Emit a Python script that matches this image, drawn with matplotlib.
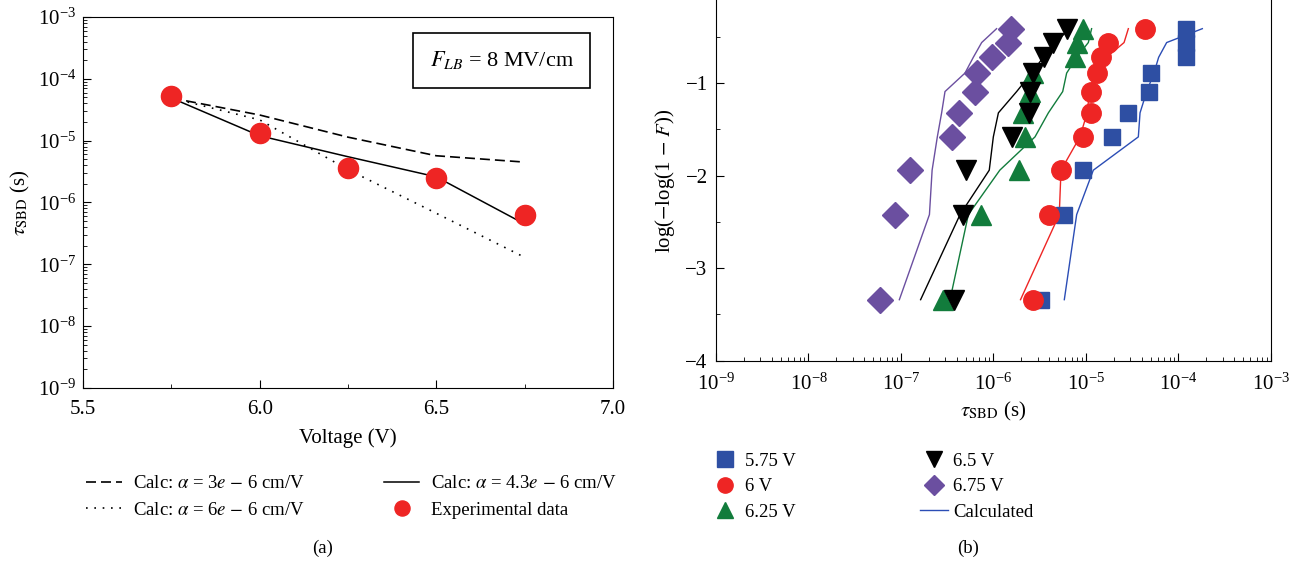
import matplotlib.pyplot as plt
from matplotlib.ticker import LogLocator, MultipleLocator, NullFormatter, FixedLocator
from matplotlib.lines import Line2D

plt.rcParams['font.family'] = ['Liberation Serif', 'DejaVu Serif']
plt.rcParams['mathtext.fontset'] = 'stix'
plt.rcParams['font.size'] = 12.5

# ===== (a) tau_SBD vs voltage =====
volt = [5.75, 6.0, 6.25, 6.5, 6.75]
tau_exp = [5.3e-5, 1.32e-5, 3.67e-6, 2.53e-6, 6.3e-7]
tau_a30 = [4.9e-5, 2.6e-5, 1.14e-5, 5.7e-6, 4.5e-6]    # alpha = 3e-6
tau_a43 = [4.9e-5, 1.2e-5, 5.5e-6, 2.6e-6, 4.5e-7]     # alpha = 4.3e-6
tau_a60 = [4.9e-5, 2.17e-5, 3.4e-6, 6.7e-7, 1.3e-7]    # alpha = 6e-6

# ===== (b) Weibull plot =====
wb_y = [-3.34, -2.42, -1.94, -1.58, -1.32, -1.09, -0.89, -0.72, -0.56, -0.41]

t575 = [3.3e-6, 5.83e-6, 9.2e-6, 1.92e-5, 2.84e-5, 4.77e-5, 5.08e-5, 1.22e-4, 1.22e-4, 1.22e-4]
t600 = [2.7e-6, 4.0e-6, 5.37e-6, 9.35e-6, 1.13e-5, 1.13e-5, 1.33e-5, 1.47e-5, 1.71e-5, 4.35e-5]
t625 = [2.83e-7, 7.28e-7, 1.88e-6, 2.21e-6, 2.07e-6, 2.48e-6, 2.66e-6, 7.6e-6, 7.93e-6, 9.2e-6]
t650 = [3.78e-7, 4.65e-7, 5.05e-7, 1.6e-6, 2.41e-6, 2.48e-6, 2.66e-6, 3.52e-6, 4.37e-6, 6.18e-6]
t675 = [5.93e-8, 8.61e-8, 1.25e-7, 3.53e-7, 4.24e-7, 6.3e-7, 6.68e-7, 9.55e-7, 1.42e-6, 1.55e-6]

c575 = [5.83e-6, 7.93e-6, 1.2e-5, 3.68e-5, 3.84e-5, 4.53e-5, 5.43e-5, 6.1e-5, 7.45e-5, 1.81e-4]
c600 = [1.96e-6, 5.14e-6, 5.37e-6, 8.6e-6, 1.03e-5, 1.09e-5, 1.25e-5, 1.67e-5, 2.58e-5, 2.87e-5]
c625 = [3.39e-7, 5.35e-7, 1.17e-6, 2.81e-6, 3.92e-6, 5.6e-6, 6.18e-6, 7.93e-6, 1.06e-5, 1.15e-5]
c650 = [1.63e-7, 4.35e-7, 9.0e-7, 9.96e-7, 1.13e-6, 1.78e-6, 2.58e-6, 3.45e-6, 4.62e-6, 6.71e-6]
c675 = [9.6e-8, 2.03e-7, 2.17e-7, 2.47e-7, 2.75e-7, 2.99e-7, 4.92e-7, 6.05e-7, 7.45e-7, 1.08e-6]

BLUE, RED, GREEN, PURPLE = '#2e4fa3', '#ee2524', '#127c3c', '#6b4fa0'

fig = plt.figure(figsize=(13.08, 5.66), dpi=100)

# ---------- panel (a) ----------
ax1 = fig.add_axes([0.0635, 0.3145, 0.405, 0.6555])
ax1.set_yscale('log')
l1, = ax1.plot(volt, tau_a30, color='black', lw=1.2, ls=(0, (6, 3)))
l2, = ax1.plot(volt, tau_a60, color='black', lw=1.2, ls=(0, (1, 4)))
l3, = ax1.plot(volt, tau_a43, color='black', lw=1.1)
l4, = ax1.plot(volt, tau_exp, 'o', color=RED, ms=14.5, ls='none')
ax1.set_xlim(5.5, 7.0)
ax1.set_ylim(1e-9, 1e-3)
ax1.xaxis.set_major_locator(FixedLocator([5.5, 6.0, 6.5, 7.0]))
ax1.xaxis.set_minor_locator(FixedLocator([5.75, 6.25, 6.75]))
ax1.set_xticklabels(['5.5', '6.0', '6.5', '7.0'])
ax1.yaxis.set_major_locator(LogLocator(base=10, numticks=10))
ax1.yaxis.set_minor_locator(LogLocator(base=10, subs=range(2, 10), numticks=10))
ax1.yaxis.set_minor_formatter(NullFormatter())
ax1.tick_params(which='both', direction='in', top=False, right=False, labelsize=15)
ax1.tick_params(which='major', length=6)
ax1.tick_params(which='minor', length=3)
ax1.tick_params(axis='x', pad=9)
ax1.tick_params(axis='y', pad=5)
ax1.set_xlabel('Voltage (V)', fontsize=15, labelpad=6)
ax1.set_ylabel(r'$\tau_{\mathrm{SBD}}$ (s)', fontsize=15, labelpad=4)
ax1.text(0.79, 0.883, r'$F_{LB}$ = 8 MV/cm', transform=ax1.transAxes, ha='center',
         va='center', fontsize=16,
         bbox=dict(boxstyle='square,pad=0.75', fc='white', ec='black', lw=1.2))

fig.legend([l1, l2, l3, l4],
           [r'Calc: $\alpha$ = 3$e$ $-$ 6 cm/V', r'Calc: $\alpha$ = 6$e$ $-$ 6 cm/V',
            r'Calc: $\alpha$ = 4.3$e$ $-$ 6 cm/V', 'Experimental data'],
           ncol=2, loc='upper left', bbox_to_anchor=(0.053, 0.19), frameon=False,
           fontsize=13.5, handlelength=1.9, columnspacing=4.2, labelspacing=0.5,
           handletextpad=0.6, markerscale=0.75)

# ---------- panel (b) ----------
ax2 = fig.add_axes([0.5474, 0.3627, 0.4243, 0.6373])
ax2.set_xscale('log')
for cx, col in [(c575, '#2b4db5'), (c600, RED), (c625, GREEN), (c650, 'black'), (c675, PURPLE)]:
    ax2.plot(cx, wb_y, color=col, lw=1.0)
ax2.plot(t575, wb_y, 's', color=BLUE, ms=12, ls='none')
ax2.plot(t600, wb_y, 'o', color=RED, ms=14, ls='none')
ax2.plot(t625, wb_y, '^', color=GREEN, ms=15, ls='none')
ax2.plot(t650, wb_y, 'v', color='black', ms=15, ls='none')
ax2.plot(t675, wb_y, 'D', color=PURPLE, ms=13, ls='none')
ax2.set_xlim(1e-9, 1e-3)
ax2.set_ylim(-4, -0.1)
ax2.yaxis.set_major_locator(MultipleLocator(1))
ax2.yaxis.set_minor_locator(MultipleLocator(0.5))
ax2.xaxis.set_major_locator(LogLocator(base=10, numticks=10))
ax2.xaxis.set_minor_locator(LogLocator(base=10, subs=range(2, 10), numticks=10))
ax2.xaxis.set_minor_formatter(NullFormatter())
ax2.yaxis.set_major_formatter(plt.FuncFormatter(lambda v, p: f'{v:.0f}'.replace('-', '\u2212')))
ax2.tick_params(which='both', direction='in', top=False, right=False, labelsize=15)
ax2.tick_params(which='major', length=6)
ax2.tick_params(which='minor', length=3)
ax2.tick_params(axis='x', pad=9)
ax2.tick_params(axis='y', pad=6)
ax2.spines['top'].set_visible(False)
ax2.set_xlabel(r'$\tau_{\mathrm{SBD}}$ (s)', fontsize=15, labelpad=4)
ax2.set_ylabel(r'log($-$log(1 $-$ $F$))', fontsize=15, labelpad=6)

h = [Line2D([], [], marker='s', color=BLUE, ls='none', ms=11),
     Line2D([], [], marker='o', color=RED, ls='none', ms=11),
     Line2D([], [], marker='^', color=GREEN, ls='none', ms=11),
     Line2D([], [], marker='v', color='black', ls='none', ms=11),
     Line2D([], [], marker='D', color=PURPLE, ls='none', ms=10),
     Line2D([], [], color='#2b4db5', lw=1.0)]
fig.legend(h, ['5.75 V', '6 V', '6.25 V', '6.5 V', '6.75 V', 'Calculated'],
           ncol=2, loc='upper left', bbox_to_anchor=(0.531, 0.23), frameon=False,
           fontsize=13.5, handlelength=1.5, columnspacing=6.6, labelspacing=0.45,
           handletextpad=0.3)

fig.text(323 / 1308, 1 - 548 / 566, '(a)', ha='center', va='center', fontsize=13.5)
fig.text(968 / 1308, 1 - 548 / 566, '(b)', ha='center', va='center', fontsize=13.5)

fig.savefig('out.png', dpi=100)
